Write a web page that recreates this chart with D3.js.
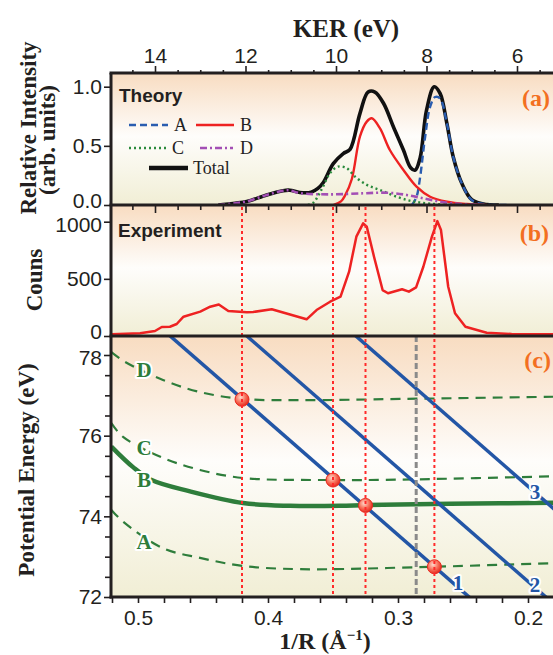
<!DOCTYPE html>
<html><head><meta charset="utf-8">
<script src="https://cdn.jsdelivr.net/npm/d3@7"></script>
<style>
html,body{margin:0;padding:0;background:#fff;}
svg{display:block;}
</style></head>
<body>
<div id="chart"></div>
<script>
// ---------------- DATA ----------------
const kerMajorTicks = [14, 12, 10, 8, 6];
const invRMajorTicks = [0.5, 0.4, 0.3, 0.2];
const intensityTicks = [0, 0.5, 1.0];
const countTicks = [0, 500, 1000];
const energyTicks = [72, 74, 76, 78];

// Theory (panel a): [KER (eV), relative intensity]
const theoryTotal = [[12.6,0],[12.5,0.003],[12.23,0.015],[11.97,0.03],[11.53,0.085],[11.17,0.121],[11.02,0.125],[10.80,0.106],[10.55,0.108],[10.40,0.14],[10.28,0.19],[10.06,0.35],[9.84,0.435],[9.69,0.47],[9.47,0.775],[9.29,0.955],[9.14,0.955],[8.95,0.86],[8.73,0.66],[8.51,0.465],[8.35,0.315],[8.25,0.295],[8.14,0.40],[8.0,0.80],[7.83,1.0],[7.70,0.944],[7.55,0.69],[7.41,0.408],[7.22,0.183],[7.0,0.045],[6.67,0.003],[6.4,0]];
const theoryA = [[8.32,0],[8.22,0.07],[8.14,0.239],[8.03,0.577],[7.92,0.83],[7.81,0.913],[7.70,0.90],[7.55,0.69],[7.41,0.408],[7.22,0.183],[7.0,0.042],[6.74,0.008],[6.23,0]];
const theoryB = [[10.05,0],[9.89,0.03],[9.80,0.08],[9.65,0.22],[9.47,0.58],[9.32,0.705],[9.21,0.733],[9.03,0.65],[8.81,0.465],[8.51,0.296],[8.22,0.155],[7.92,0.07],[7.55,0.028],[7.11,0.008],[6.67,0]];
const theoryC = [[10.62,0],[10.50,0.02],[10.32,0.13],[10.13,0.27],[9.95,0.325],[9.76,0.31],[9.58,0.24],[9.32,0.17],[9.03,0.127],[8.66,0.07],[8.29,0.03],[7.92,0.012],[7.48,0]];
const theoryD = [[12.6,0],[12.5,0.003],[12.23,0.015],[11.97,0.03],[11.53,0.085],[11.17,0.121],[11.02,0.123],[10.80,0.10],[10.13,0.09],[9.40,0.099],[8.88,0.104],[8.44,0.085],[8.07,0.056],[7.70,0.028],[7.26,0.008],[6.82,0]];

// Experiment (panel b): [KER (eV), counts]
const experiment = [[14.95,15],[14.33,24],[14.0,44],[13.85,79],[13.67,81],[13.52,105],[13.37,169],[13.0,213],[12.78,256],[12.59,276],[12.38,219],[11.97,207],[11.83,210],[11.42,234],[10.65,146],[10.43,227],[10.13,300],[9.90,344],[9.71,563],[9.55,869],[9.40,985],[9.32,956],[9.16,694],[8.97,402],[8.85,374],[8.54,409],[8.39,388],[8.23,426],[8.07,606],[7.88,869],[7.76,1005],[7.68,927],[7.52,431],[7.37,199],[7.14,81],[6.67,29],[6.12,17],[5.2,15]];

// Potential energy curves (panel c): [1/R (1/Å), E (eV)]
const curveA = [[0.5205,74.16],[0.5115,73.87],[0.4808,73.21],[0.4523,72.97],[0.4192,72.77],[0.3754,72.69],[0.2731,72.75],[0.17,72.85]];
const curveB = [[0.5205,75.73],[0.5038,75.22],[0.4895,74.90],[0.46,74.62],[0.4192,74.33],[0.3831,74.26],[0.3446,74.26],[0.3241,74.28],[0.26,74.31],[0.17,74.34]];
const curveC = [[0.5205,76.31],[0.5115,75.97],[0.4808,75.45],[0.4523,75.15],[0.4192,74.95],[0.35,74.90],[0.2985,74.91],[0.17,75.0]];
const curveD = [[0.5205,78.07],[0.510,77.83],[0.4808,77.38],[0.4523,77.08],[0.4192,76.91],[0.3754,76.88],[0.2985,76.91],[0.17,76.97]];
const coulomb1 = [[0.52,79.73],[0.16,69.60]];
const coulomb2 = [[0.52,81.39],[0.16,71.26]];
const coulomb3 = [[0.52,83.75],[0.16,73.62]];
const crossings = [[0.42,76.9],[0.35,74.9],[0.325,74.27],[0.272,72.75]];
const dottedInvR = [0.42, 0.35, 0.325, 0.272];
const grayInvR = 0.286;

// ---------------- LAYOUT ----------------
const W = 553, H = 655;
const L = 111, R = 570;
const topA = 73, botA = 205, botB = 336, botC = 597;

const svg = d3.select("#chart").append("svg").attr("width", W).attr("height", H);
const defs = svg.append("defs");

const grad = defs.append("linearGradient").attr("id","bg").attr("x1",0).attr("y1",0).attr("x2",0).attr("y2",1);
grad.append("stop").attr("offset","0%").attr("stop-color","#f8dcc1");
grad.append("stop").attr("offset","48%").attr("stop-color","#fefdfb");
grad.append("stop").attr("offset","100%").attr("stop-color","#f1eed5");

const rg = defs.append("radialGradient").attr("id","ball").attr("cx","40%").attr("cy","35%").attr("r","65%");
rg.append("stop").attr("offset","0%").attr("stop-color","#ffd9cc");
rg.append("stop").attr("offset","55%").attr("stop-color","#f7705a");
rg.append("stop").attr("offset","100%").attr("stop-color","#e62a1e");

function clip(id, y0, y1){
  defs.append("clipPath").attr("id",id).append("rect").attr("x",L).attr("y",y0).attr("width",R-L).attr("height",y1-y0);
}
clip("clipA", topA, botA); clip("clipB", botA, botB); clip("clipC", botB, botC);

[[topA,botA],[botA,botB],[botB,botC]].forEach(([a,b])=>{
  svg.append("rect").attr("x",L).attr("y",a).attr("width",R-L).attr("height",b-a).attr("fill","url(#bg)");
});

// scales
const xK = d3.scaleLinear().domain([14, 6]).range([155, 517]);
const xR = d3.scaleLinear().domain([0.5, 0.2]).range([138, 528]);
const yA = d3.scaleLinear().domain([0, 1]).range([205, 86.7]);
const yB = d3.scaleLinear().domain([0, 1000]).range([336, 221.7]);
const yC = d3.scaleLinear().domain([72, 78]).range([597, 355]);

const tickFont = "'Liberation Sans Narrow','Arial Narrow','Liberation Sans',Arial,sans-serif";
const serif = "'Liberation Serif','Times New Roman',serif";

// ---------- panel A ----------
const gA = svg.append("g").attr("clip-path","url(#clipA)");
const lineK = (ys)=> d3.line().x(d=>xK(d[0])).y(d=>ys(d[1])).curve(d3.curveCatmullRom.alpha(0.5));
gA.append("path").datum(theoryTotal).attr("d", lineK(yA)).attr("fill","none").attr("stroke","#111").attr("stroke-width",3.6).attr("stroke-linejoin","round");
gA.append("path").datum(theoryA).attr("d", lineK(yA)).attr("fill","none").attr("stroke","#2a5db0").attr("stroke-width",2.4).attr("stroke-dasharray","7,4");
gA.append("path").datum(theoryB).attr("d", lineK(yA)).attr("fill","none").attr("stroke","#ee2222").attr("stroke-width",2.4);
gA.append("path").datum(theoryC).attr("d", lineK(yA)).attr("fill","none").attr("stroke","#2a8a3c").attr("stroke-width",2.4).attr("stroke-dasharray","2,3");
gA.append("path").datum(theoryD).attr("d", lineK(yA)).attr("fill","none").attr("stroke","#a34fb5").attr("stroke-width",2.6).attr("stroke-dasharray","7,3,2,3");

// legend
const leg = svg.append("g").attr("font-family", serif).attr("font-size", 18).attr("fill","#222");
function legItem(x1,x2,y,stroke,w,dash,label,lx){
  leg.append("line").attr("x1",x1).attr("x2",x2).attr("y1",y).attr("y2",y).attr("stroke",stroke).attr("stroke-width",w).attr("stroke-dasharray",dash);
  leg.append("text").attr("x",lx).attr("y",y+6).text(label);
}
legItem(129,168,125,"#2a5db0",2.4,"7,4","A",174);
legItem(196,234,125,"#ee2222",2.6,null,"B",240);
legItem(129,168,148,"#2a8a3c",2.4,"2,3","C",172);
legItem(200,233,148,"#a34fb5",2.6,"7,3,2,3","D",240);
legItem(149,188,168,"#111",4.5,null,"Total",193);

svg.append("text").attr("x",119).attr("y",102).attr("font-family","'Liberation Sans',Arial,sans-serif").attr("font-weight","bold").attr("font-size",19).attr("fill","#231f20").text("Theory");
svg.append("text").attr("x",550).attr("y",106).attr("text-anchor","end").attr("font-family",serif).attr("font-weight","bold").attr("font-size",24).attr("fill","#f36f21").text("(a)");

// ---------- panel B ----------
const gB = svg.append("g").attr("clip-path","url(#clipB)");
gB.append("path").datum(experiment).attr("d", d3.line().x(d=>xK(d[0])).y(d=>yB(d[1]))).attr("fill","none").attr("stroke","#ee2222").attr("stroke-width",2.5).attr("stroke-linejoin","round");
svg.append("text").attr("x",118).attr("y",237).attr("font-family","'Liberation Sans',Arial,sans-serif").attr("font-weight","bold").attr("font-size",19).attr("fill","#231f20").text("Experiment");
svg.append("text").attr("x",549).attr("y",241).attr("text-anchor","end").attr("font-family",serif).attr("font-weight","bold").attr("font-size",24).attr("fill","#f36f21").text("(b)");

// ---------- panel C ----------
const gC = svg.append("g").attr("clip-path","url(#clipC)");
const lineR = d3.line().x(d=>xR(d[0])).y(d=>yC(d[1])).curve(d3.curveCatmullRom.alpha(0.5));
[curveA, curveC, curveD].forEach(c=>{
  gC.append("path").datum(c).attr("d", lineR).attr("fill","none").attr("stroke","#2e7d3b").attr("stroke-width",2.2).attr("stroke-dasharray","10,7");
});
gC.append("path").datum(curveB).attr("d", lineR).attr("fill","none").attr("stroke","#2e7d3b").attr("stroke-width",4.5);
[coulomb1, coulomb2, coulomb3].forEach(c=>{
  gC.append("path").datum(c).attr("d", d3.line().x(d=>xR(d[0])).y(d=>yC(d[1]))).attr("fill","none").attr("stroke","#2356a6").attr("stroke-width",3.5);
});
gC.append("line").attr("x1",xR(grayInvR)).attr("x2",xR(grayInvR)).attr("y1",botB).attr("y2",botC).attr("stroke","#8a8a8a").attr("stroke-width",3).attr("stroke-dasharray","6,3");
const gDot = svg.append("g");
dottedInvR.forEach(v=>{
  gDot.append("line").attr("x1",xR(v)).attr("x2",xR(v)).attr("y1",botA+2).attr("y2",botC).attr("stroke","#ff2a2a").attr("stroke-width",2).attr("stroke-dasharray","3,3");
});
gC.selectAll("circle.ball").data(crossings).join("circle").attr("class","ball")
  .attr("cx",d=>xR(d[0])).attr("cy",d=>yC(d[1])).attr("r",7).attr("fill","url(#ball)").attr("stroke","#e8281c").attr("stroke-width",1);

// curve labels
const cl = svg.append("g").attr("font-family",serif).attr("font-weight","bold").attr("font-size",21).attr("text-anchor","middle")
  .attr("paint-order","stroke").attr("stroke","#fff").attr("stroke-width",4).attr("stroke-linejoin","round");
[["D",77.63],["C",75.69],["B",74.9],["A",73.36]].forEach(([t,e])=>{
  cl.append("text").attr("x",144).attr("y",yC(e)+7).attr("fill","#2e7d3b").text(t);
});
[["1",0.2538,72.35],["2",0.1946,72.3],["3",0.1946,74.6]].forEach(([t,r,e])=>{
  cl.append("text").attr("x",xR(r)).attr("y",yC(e)+7).attr("fill","#2356a6").text(t);
});
svg.append("text").attr("x",551).attr("y",368).attr("text-anchor","end").attr("font-family",serif).attr("font-weight","bold").attr("font-size",24).attr("fill","#f36f21").text("(c)");

// ---------- axes ----------
function styleAxis(g){
  g.select(".domain").remove();
  g.selectAll(".tick line").attr("stroke","#231f20").attr("stroke-width",1.6);
  g.selectAll(".tick text").attr("font-family",tickFont).attr("font-size",21).attr("fill","#231f20");
}
const kerMinor = d3.range(5.5, 14.51, 0.5).filter(v=>!kerMajorTicks.includes(v));
svg.append("g").attr("transform",`translate(0,${topA})`).call(d3.axisTop(xK).tickValues(kerMajorTicks).tickSize(7).tickPadding(3).tickFormat(d3.format("d"))).call(styleAxis);
svg.append("g").attr("transform",`translate(0,${topA})`).call(d3.axisTop(xK).tickValues(kerMinor).tickSize(3).tickFormat("")).call(styleAxis);
svg.append("g").attr("transform",`translate(0,${botA})`).call(d3.axisBottom(xK).tickValues(kerMajorTicks).tickSize(8).tickFormat("")).call(styleAxis);
svg.append("g").attr("transform",`translate(0,${botA})`).call(d3.axisBottom(xK).tickValues(kerMinor).tickSize(5).tickFormat("")).call(styleAxis);
const invRMinor = d3.range(0.18, 0.521, 0.02).map(v=>+v.toFixed(2)).filter(v=>!invRMajorTicks.includes(v));
svg.append("g").attr("transform",`translate(0,${botC})`).call(d3.axisBottom(xR).tickValues(invRMajorTicks).tickSize(6).tickPadding(7).tickFormat(d3.format(".1f"))).call(styleAxis);
svg.append("g").attr("transform",`translate(0,${botC})`).call(d3.axisBottom(xR).tickValues(invRMinor).tickSize(6).tickFormat("")).call(styleAxis);
const axA = svg.append("g").attr("transform",`translate(${L},0)`).call(d3.axisLeft(yA).tickValues(intensityTicks).tickSize(7).tickPadding(2).tickFormat(d3.format(".1f"))).call(styleAxis);
const axB = svg.append("g").attr("transform",`translate(${L},0)`).call(d3.axisLeft(yB).tickValues(countTicks).tickSize(7).tickPadding(2).tickFormat(d3.format("d"))).call(styleAxis);
const axC = svg.append("g").attr("transform",`translate(${L},0)`).call(d3.axisLeft(yC).tickValues(energyTicks).tickSize(7).tickPadding(2).tickFormat(d3.format("d"))).call(styleAxis);
// nudge the crowded labels at the panel joins slightly apart
axA.selectAll(".tick").filter(d=>d===0).select("text").attr("dy","0.12em");
axB.selectAll(".tick").filter(d=>d===1000).select("text").attr("dy","0.45em");
axB.selectAll(".tick").filter(d=>d===0).select("text").attr("dy","0.12em");
axC.selectAll(".tick").filter(d=>d===78).select("text").attr("dy","0.45em");
const eMinor = d3.range(72.5, 78.01, 0.5).filter(v=>!energyTicks.includes(v));
svg.append("g").attr("transform",`translate(${L},0)`).call(d3.axisLeft(yC).tickValues(eMinor).tickSize(6).tickFormat("")).call(styleAxis);

// frames
const fr = svg.append("g").attr("stroke","#231f20").attr("stroke-width",3);
[topA, botA, botB, botC].forEach(y=> fr.append("line").attr("x1",L-1.5).attr("x2",R).attr("y1",y).attr("y2",y));
fr.append("line").attr("x1",L).attr("x2",L).attr("y1",topA).attr("y2",botC+1.5);

// axis titles
const tt = svg.append("g").attr("font-family",serif).attr("font-weight","bold").attr("font-size",25).attr("fill","#231f20").attr("text-anchor","middle");
tt.append("text").attr("x",346).attr("y",37).text("KER (eV)");
const xt = tt.append("text").attr("x",325).attr("y",649).attr("font-size",24);
xt.append("tspan").text("1/R (Å");
xt.append("tspan").attr("font-size",15).attr("dy",-9).text("−1");
xt.append("tspan").attr("dy",9).text(")");
tt.append("text").attr("transform","translate(36,128) rotate(-90)").attr("font-size",23).text("Relative Intensity");
tt.append("text").attr("transform","translate(55,140) rotate(-90)").attr("font-size",23).text("(arb. units)");
tt.append("text").attr("transform","translate(42,280) rotate(-90)").attr("font-size",23).text("Couns");
tt.append("text").attr("transform","translate(34,470) rotate(-90)").attr("font-size",23).text("Potential Energy (eV)");
</script>
</body></html>
